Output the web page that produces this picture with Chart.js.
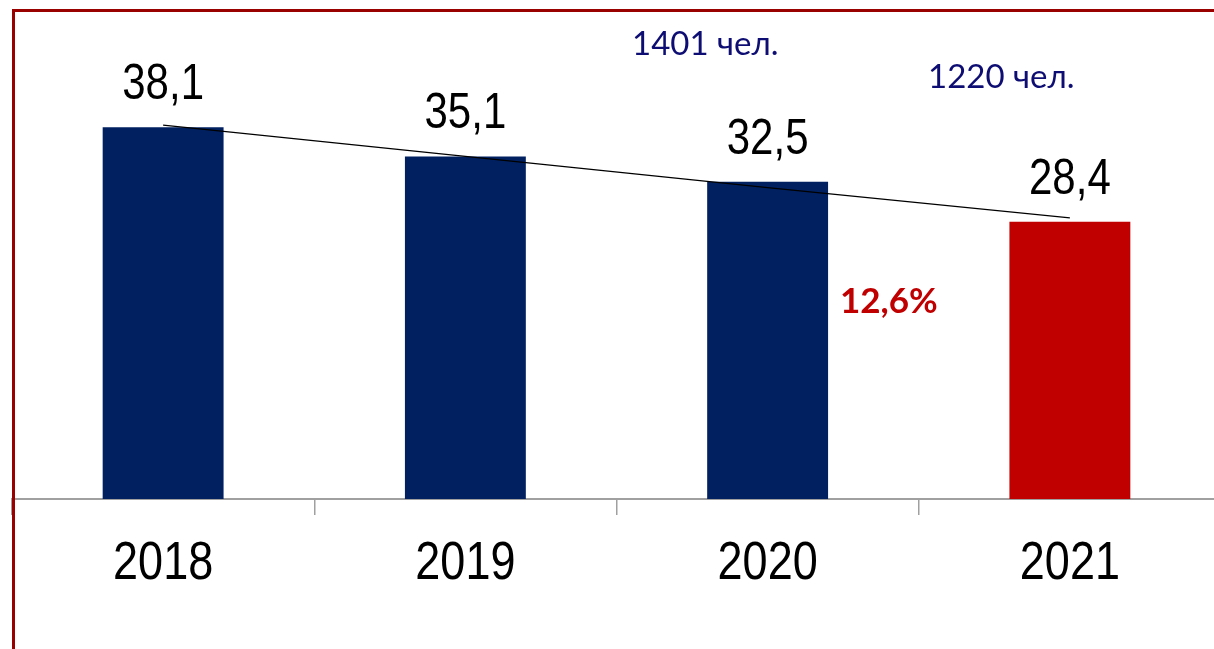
<!DOCTYPE html>
<html>
<head>
<meta charset="utf-8">
<script src="https://cdn.jsdelivr.net/npm/chart.js@4"></script>
<style>
  html, body { margin: 0; padding: 0; background: #fff; overflow: hidden; }
  canvas { display: block; }
</style>
</head>
<body>
<canvas id="chart" width="1221" height="649"></canvas>
<script>
var years = ["2018", "2019", "2020", "2021"];
var values = [38.1, 35.1, 32.5, 28.4];
var trendValues = [38.3, 35.1, 31.9, 28.8];
var barColors = ["#002060", "#002060", "#002060", "#c00000"];
var notes = ["1401 чел.", "1220 чел."];
var changeLabel = "12,6%";

const fmt = (v) => v.toString().replace(".", ",");

// stretched Arial-like text, as in the original picture
const drawStretched = (ctx, text, x, y, size) => {
  ctx.save();
  ctx.translate(x, y);
  ctx.scale(1, 1.2);
  ctx.font = size + "px 'Liberation Sans', Arial, sans-serif";
  ctx.textAlign = "center";
  ctx.textBaseline = "alphabetic";
  ctx.fillStyle = "#000";
  ctx.fillText(text, 0, 0);
  ctx.restore();
};

const textPlugin = {
  id: "texts",
  afterDraw(chart) {
    const ctx = chart.ctx;
    const xs = chart.scales.x;
    const ys = chart.scales.y;
    const bars = chart.getDatasetMeta(1).data;

    values.forEach((v, i) => {
      drawStretched(ctx, fmt(v), bars[i].x, ys.getPixelForValue(v) - 28, 42);
      drawStretched(ctx, years[i], xs.getPixelForValue(i), 579, 45);
    });

    ctx.save();
    ctx.fillStyle = "#0d0d73";
    ctx.font = "33px Lato, 'Open Sans', sans-serif";
    ctx.textAlign = "left";
    ctx.textBaseline = "alphabetic";
    ctx.fillText(notes[0], 632, 55);
    ctx.fillText(notes[1], 928, 88);
    ctx.fillStyle = "#c00000";
    ctx.font = "bold 35px Lato, 'Open Sans', sans-serif";
    ctx.fillText(changeLabel, 840, 313);

    // frame
    ctx.strokeStyle = "#990000";
    ctx.lineWidth = 3;
    ctx.beginPath();
    ctx.moveTo(13.5, 649);
    ctx.lineTo(13.5, 10.5);
    ctx.lineTo(1221, 10.5);
    ctx.stroke();
    ctx.restore();
  },
};

var ctx = document.getElementById("chart").getContext("2d");
var chart = new Chart(ctx, {
  type: "bar",
  data: {
    labels: years,
    datasets: [
      {
        type: "line",
        data: trendValues,
        borderColor: "#000",
        borderWidth: 1.3,
        pointRadius: 0,
        tension: 0,
        order: 0,
      },
      {
        data: values,
        backgroundColor: barColors,
        barPercentage: 0.4,
        categoryPercentage: 1,
        order: 1,
      },
    ],
  },
  options: {
    responsive: false,
    animation: false,
    layout: { padding: { left: 12, right: 0, top: 11, bottom: 134 } },
    plugins: {
      legend: { display: false },
      tooltip: { enabled: false },
    },
    scales: {
      x: {
        offset: true,
        grid: {
          offset: true,
          drawOnChartArea: false,
          tickLength: 16,
          color: "#a0a0a0",
          lineWidth: 1.5,
        },
        border: { color: "#a0a0a0", width: 2 },
        ticks: { display: false },
      },
      y: {
        display: false,
        min: 0,
        max: 50,
      },
    },
  },
  plugins: [textPlugin],
});
</script>
</body>
</html>
